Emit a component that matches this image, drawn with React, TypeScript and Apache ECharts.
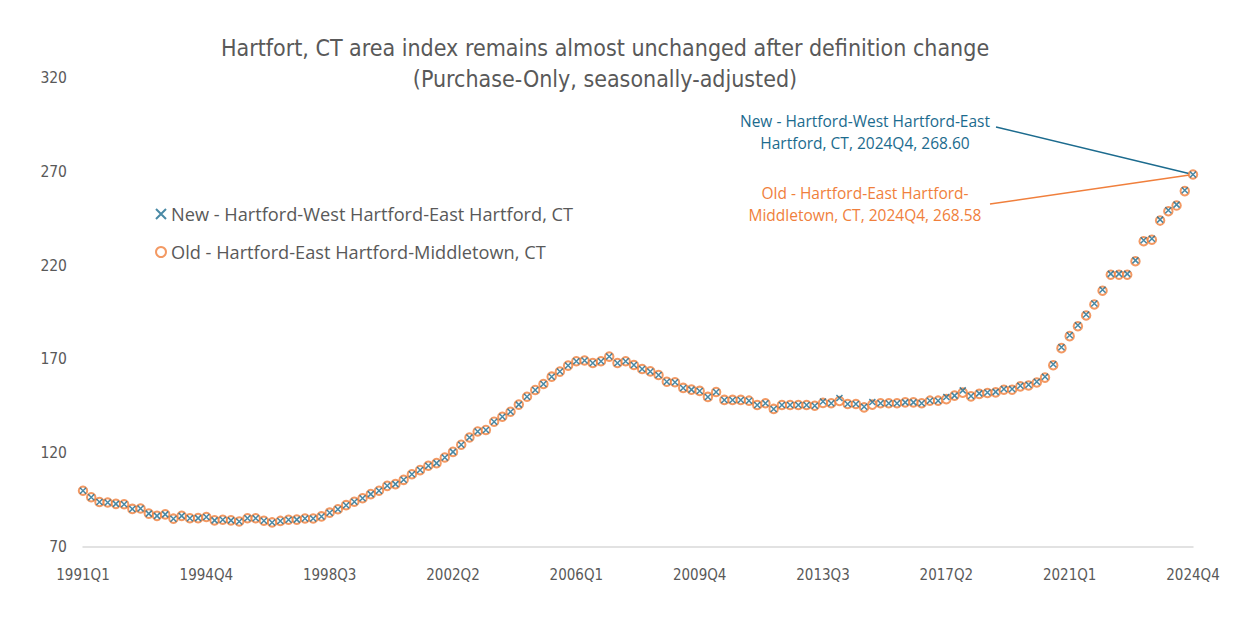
import React, { useEffect, useRef } from "react";
import * as echarts from "echarts";

const years = Array.from({ length: 34 }, (_, i) => 1991 + i);
const categories: string[] = [];
years.forEach((y) => ["Q1", "Q2", "Q3", "Q4"].forEach((q) => categories.push(`${y}${q}`)));

const newSeries = [
  100, 96.5, 94, 93.7, 93, 92.8, 90.3, 90.5, 87.8, 86.6, 87.4, 85.1, 86.6, 85.3, 85.4, 86,
  84.2, 84.5, 84.2, 83.6, 85.3, 85.3, 84, 83.1, 83.9, 84.5, 84.6, 85.2, 85.2, 86.3, 88.3, 90.1,
  92.3, 94.1, 96, 98.2, 100, 102.6, 103.5, 105.8, 108.8, 111, 113.3, 114.7, 117.7, 120.7, 124.5, 128.4,
  131.6, 132.4, 136.8, 139.4, 142.1, 145.9, 150.1, 153.7, 156.9, 160.8, 163.5, 166.7, 169, 169.4, 168.1, 169,
  171.5, 168.1, 169, 167, 164.9, 163.6, 161.7, 158.1, 157.8, 154.8, 153.9, 153.2, 150, 152.6, 148.4, 148.4,
  148.4, 148, 145.7, 146.6, 143.6, 145.7, 145.7, 145.7, 145.7, 145.3, 147.6, 146.6, 149.4, 146.2, 146.2, 144.8,
  147.3, 146.6, 146.6, 146.6, 147.1, 147.1, 146.6, 148, 148, 150, 150.7, 153.5, 150.5, 151.9, 152.4, 152.7,
  154.2, 154.2, 156, 156.5, 158.1, 160.8, 167.4, 176.5, 182.9, 188.2, 193.9, 199.8, 207.1, 215.6, 215.6, 215.6,
  222.8, 233.5, 234.3, 244.5, 249.5, 252.5, 260.2, 268.6,
];

const oldSeries = [
  100, 96.5, 94, 93.7, 93, 92.8, 90.3, 90.5, 87.8, 86.6, 87.4, 85.1, 86.6, 85.3, 85.4, 86,
  84.2, 84.5, 84.2, 83.6, 85.3, 85.3, 84, 83.1, 83.9, 84.5, 84.6, 85.2, 85.2, 86.3, 88.3, 90.1,
  92.3, 94.1, 96, 98.2, 100, 102.6, 103.5, 105.8, 108.8, 111, 113.3, 114.7, 117.7, 120.7, 124.5, 128.4,
  131.6, 132.4, 136.8, 139.4, 142.1, 145.9, 150.1, 153.7, 156.9, 160.8, 163.5, 166.7, 169, 169.4, 168.1, 169,
  171.5, 168.1, 169, 167, 164.9, 163.6, 161.7, 158.1, 157.8, 154.8, 153.9, 153.2, 150, 152.6, 148.4, 148.4,
  148.4, 148, 145.7, 146.6, 143.6, 145.7, 145.7, 145.7, 145.7, 145.3, 146.8, 146.6, 147.8, 146.2, 146.2, 144.4,
  145.9, 146.6, 146.6, 146.6, 147.1, 147.1, 146.6, 148, 148, 148.8, 150.7, 152.3, 150.3, 151.6, 152.1, 152.4,
  153.8, 153.8, 155.6, 156.1, 157.7, 160.3, 166.9, 176, 182.4, 187.7, 193.4, 199.3, 206.6, 215.1, 215.1, 215.1,
  222.3, 233, 233.8, 244, 249, 252, 259.7, 268.58,
];

const newName = "New - Hartford-West Hartford-East Hartford, CT";
const oldName = "Old - Hartford-East Hartford-Middletown, CT";
const newLabelLines = ["New - Hartford-West Hartford-East", "Hartford, CT, 2024Q4, 268.60"];
const oldLabelLines = ["Old - Hartford-East Hartford-", "Middletown, CT, 2024Q4, 268.58"];
const titleLines = [
  "Hartfort, CT area index remains almost unchanged after definition change",
  "(Purchase-Only, seasonally-adjusted)",
];

const BLUE = "#1c6b8e";
const ORANGE = "#f07f3c";
const GRAY = "#595959";
const NARROW = "'DejaVu Sans Condensed', 'Liberation Sans Narrow', sans-serif";
const SANS = "'Open Sans', 'Noto Sans', sans-serif";
const XPATH = "path://M0,0L10,10M10,0L0,10";

export default function App() {
  const ref = useRef<HTMLDivElement>(null);
  useEffect(() => {
    if (!ref.current) return;
    const chart = echarts.init(ref.current, undefined, { renderer: "svg" });
    const option: any = {
      animation: false,
      backgroundColor: "#ffffff",
      title: {
        text: titleLines.join("\n"),
        left: 600,
        textAlign: "center",
        top: 27,
        textStyle: { fontFamily: NARROW, fontSize: 23, fontWeight: "normal", color: GRAY, lineHeight: 31 },
      },
      legend: {
        orient: "vertical",
        left: 150,
        top: 200,
        itemGap: 20,
        itemWidth: 10,
        itemHeight: 10,
        data: [
          { name: newName, icon: XPATH },
          { name: oldName, icon: "emptyCircle" },
        ],
        textStyle: { fontFamily: SANS, fontSize: 18.2, color: GRAY },
      },
      grid: { left: 83, right: 43, top: 78, bottom: 94, containLabel: false },
      xAxis: {
        type: "category",
        data: categories,
        boundaryGap: false,
        axisLine: { lineStyle: { color: "#d9d9d9", width: 1.5 } },
        axisTick: { show: false },
        axisLabel: { interval: 14, color: GRAY, fontFamily: NARROW, fontSize: 15, margin: 20 },
      },
      yAxis: {
        type: "value",
        min: 70,
        max: 320,
        interval: 50,
        splitLine: { show: false },
        axisLine: { show: false },
        axisTick: { show: false },
        axisLabel: { color: GRAY, fontFamily: NARROW, fontSize: 15.5, margin: 16 },
      },
      series: [
        {
          name: oldName,
          type: "scatter",
          data: oldSeries,
          symbol: "emptyCircle",
          symbolSize: 8.5,
          itemStyle: { color: ORANGE, borderColor: ORANGE, borderWidth: 1.5 },
          z: 2,
        },
        {
          name: newName,
          type: "scatter",
          data: newSeries,
          symbol: XPATH,
          symbolSize: 6,
          itemStyle: { color: BLUE, borderColor: BLUE, borderWidth: 1.5 },
          z: 3,
        },
      ],
    };
    chart.setOption(option);
    const last = categories.length - 1;
    const pNew = chart.convertToPixel({ seriesIndex: 1 }, [last, newSeries[last]]) as number[];
    const pOld = chart.convertToPixel({ seriesIndex: 0 }, [last, oldSeries[last]]) as number[];
    chart.setOption({
      graphic: [
        {
          type: "text",
          x: 865,
          y: 110,
          style: {
            text: newLabelLines.join("\n"),
            fill: BLUE,
            font: `15.5px ${SANS}`,
            align: "center",
            lineHeight: 22,
          },
        },
        {
          type: "text",
          x: 865,
          y: 182,
          style: {
            text: oldLabelLines.join("\n"),
            fill: ORANGE,
            font: `15.5px ${SANS}`,
            align: "center",
            lineHeight: 22,
          },
        },
        {
          type: "line",
          shape: { x1: 996, y1: 127, x2: pNew[0], y2: pNew[1] },
          style: { stroke: BLUE, lineWidth: 1.5 },
          z: 1,
        },
        {
          type: "line",
          shape: { x1: 990, y1: 204, x2: pOld[0], y2: pOld[1] },
          style: { stroke: ORANGE, lineWidth: 1.5 },
          z: 1,
        },
      ],
    });
    return () => chart.dispose();
  }, []);
  return (
    <div
      style={{
        position: "fixed",
        left: 0,
        top: 0,
        width: 1236,
        height: 641,
        boxSizing: "border-box",
        border: "1px solid #bfbfbf",
        background: "#fff",
      }}
    >
      <div ref={ref} style={{ position: "absolute", left: -1, top: -1, width: 1236, height: 641 }} />
    </div>
  );
}
